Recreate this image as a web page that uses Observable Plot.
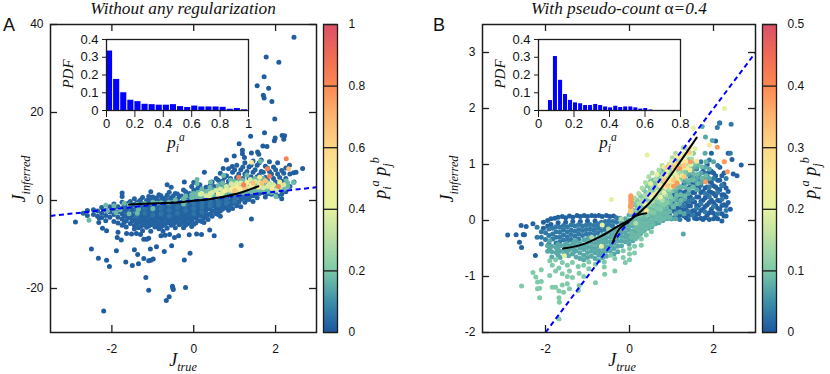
<!DOCTYPE html>
<html><head><meta charset="utf-8">
<script src="https://cdn.jsdelivr.net/npm/d3@7"></script>
<script src="https://cdn.jsdelivr.net/npm/@observablehq/plot@0.6"></script>
<style>
html,body{margin:0;padding:0;background:#fff}
#root{position:relative;width:830px;height:374px;overflow:hidden}
.t{position:absolute;white-space:nowrap;line-height:1;color:#111;transform:translate(-50%,-50%)}
.r{transform:translate(-50%,-50%) rotate(-90deg)}
.serif{font-family:"Liberation Serif",serif;font-style:italic}
.sans{font-family:"Liberation Sans",sans-serif}
.serif sub,.serif sup{font-size:68%;line-height:0}
</style></head><body><div id="root"></div>
<script>
// colour stops shared by both colour bars (fraction of the bar -> colour)
const colorStops=[0,.04,.1,.2,.3,.4,.5,.6,.7,.8,.9,1];
const colorRange=["#1f5a9e","#2a6ea6","#3f92a8","#7fcaa8","#b8dfa5","#e8f3a0","#faeb96","#fdd585","#fdb36e","#fb8752","#ee6a55","#d9506a"];

// ---------- Panel A scatter: [x,[y,...]] columns per colour level ----------
const aOutliers=[[2.45,[37.1]],[1.77,[32.6]],[2.08,[31.4]],[1.72,[28.1,23.3]],[1.55,[26.1]],[1.83,[25.5]],[1.70,[23.9]],[1.91,[22.5]],[1.98,[18.5]],[1.73,[15.4]],[1.39,[14.6]],[2.16,[14.8]],[2.22,[14.7]],[2.2,[13.9]],[1.99,[14.2]],[1.97,[13.6]],[1.11,[12.9]],[1.69,[12.4]],[1.79,[12.3]],[.99,[10.1]],[1.19,[11.4,10.6]],[1.24,[9.8]],[1.41,[10.8]],[1.56,[11]],[1.59,[10.5]],[.8,[9.2]],[.72,[7.3]],[.94,[7.7]],[.26,[6.4]],[-.23,[4.2]],[0,[4.1]],[2.66,[7.3]],[2.44,[6.3]],[2.5,[6.4]],[2.34,[8]],[-2.89,[-4.9]],[-2.5,[-11]],[-2.33,[-13.1]],[-2.13,[-13.6,-6.9]],[-2.06,[-15]],[-1.89,[-11.4]],[-2.2,[-25.1]],[-1.66,[-14]],[-1.5,[-14.8]],[-1.35,[-14.4]],[-1.45,[-11.2]],[-1.37,[-12.3]],[-1.22,[-13.2,-8.8]],[-1.1,[-13.7,-20.4,-8.6]],[-1.05,[-13.6]],[-.99,[-13.3]],[-1.06,[-11]],[-.91,[-10.5]],[-.72,[-11.6]],[-.54,[-10.3]],[-.09,[-12]],[-.23,[-13.5]],[-1.17,[-17.5]],[-.52,[-19.5]],[-.51,[-19.9]],[-.5,[-20.2]],[-.2,[-19.8]],[-.6,[-21.9]],[-.67,[-22.7]],[1.41,[-4.2]],[1.16,[-10.2]],[.5,[-8]],[.39,[-6.7]],[.19,[-7.7]],[.07,[-7.6]],[-.11,[-7.8]],[-.37,[-8]],[-.47,[-8.4]],[-.7,[-7.9]],[-.8,[-8]],[-.59,[-7.7]],[-1.15,[-8.8]],[-1.3,[-7.7]],[-1.4,[-7.5]],[-1.52,[-7.6]],[-1.64,[-7.5]],[-1.87,[-8.4]],[-1.77,[-9]],[-1.85,[-7.2]],[-2.23,[-6.3]],[-2.32,[-5]],[-2.31,[-4]]];
const aCore=[[-2.7,[-2.9]],[-2.6,[-3.4,-2.3]],[-2.45,[-2.1,-3.2]],[-2.35,[-2.4,-3.6]],[-2.25,[-1.6,-2.9,-3.9]],[-2.15,[-2.2,-3.4,-4.6]],[-2.05,[-1.4,-2.6,-3.8]],[-1.95,[-.8,-2,-3.2,-4.8]],[-1.85,[-1.4,-2.6,-3.8,-5.1]],[-1.75,[1.7,.9,-.4,-1.8,-3,-4.2,-5.6]],[-1.65,[-.9,-2.2,-3.4,-4.6,-6]],[-1.55,[-.2,-1.5,-2.7,-3.9,-5.2]],[-1.45,[.4,-.9,-2.1,-3.3,-4.5,-5.7,-6.5]],[-1.35,[-.3,-1.5,-2.7,-3.8,-5,-6.2]],[-1.25,[.7,-.9,-2.1,-3.2,-4.4,-5.6,-6.9]],[-1.15,[0,-1.3,-2.5,-3.7,-4.9,-6.1]],[-1.05,[2,.6,-.7,-1.9,-3.1,-4.3,-5.5,-7]],[-.95,[.2,-1.1,-2.4,-3.6,-4.8,-6]],[-.85,[1.3,-.3,-1.6,-2.8,-4,-5.2,-6.4]],[-.75,[.4,-.9,-2.1,-3.3,-4.5,-5.7,-7]],[-.65,[3.6,1.2,-.2,-1.5,-2.7,-3.9,-5.1,-6.3]],[-.55,[3,.6,-.8,-2,-3.2,-4.4,-5.6]],[-.45,[1.6,-.1,-1.4,-2.6,-3.8,-5,-6.2]],[-.35,[.9,-.7,-1.9,-3.1,-4.3,-5.5]],[-.25,[2.4,.2,-1.2,-2.4,-3.6,-4.8,-6.2]],[-.15,[1.2,-.4,-1.7,-2.9,-4.1,-5.3]],[-.05,[3.2,.6,-.9,-2.1,-3.3,-4.5,-5.9]],[.05,[1.8,-.3,-1.5,-2.7,-3.9,-5.1]],[.15,[3.6,.9,-.8,-2,-3.2,-4.6]],[.25,[2,-.2,-1.4,-2.6,-3.9,-5]],[.35,[1.2,-.7,-1.9,-3.2,-4.3]],[.45,[4.2,2.6,-.1,-1.3,-2.5,-3.6]],[.55,[5,1.6,-.6,-1.8,-3]],[.65,[6.2,3.6,0,-1.2,-2.4,-3.6]],[.75,[5.2,2.8,-.5,-1.7]],[.85,[7.2,4.4,1.4,-1,-2.2]],[.95,[6.4,3.6,.6,-.6,-1.8]],[1.05,[8,5.2,2.4,-.2,-1.2]],[1.15,[7,4.2,1.2,.2,-1.4]],[1.25,[8.6,6,3.2,.6,-.4]],[1.35,[7.6,5,2.1,.2]],[1.45,[9,6.4,4,1.1,-.2]],[1.55,[8,5.4,2.9,.6]],[1.65,[9.2,6.6,4.2,1.8]],[1.75,[7.8,5.2,2.6,.8]],[1.85,[8.8,6.6,3.8,1.6]],[1.95,[7.6,5,2.6]],[2.05,[8.6,6,3.6,1]],[2.15,[6.8,4.4,1.4,.4]],[2.25,[7.4,5,2]],[2.35,[6,3.2]],[2.45,[4.2]]];
const aCoreFill=[[-1.7,[-1.2,-2.4,-3.6,-5]],[-1.6,[-.6,-1.6,-2.8,-4]],[-1.5,[-1.1,-2.2,-3.4,-4.6]],[-1.4,[-.6,-1.8,-3,-4.1,-5.3]],[-1.3,[.1,-1.2,-2.4,-3.5,-4.7,-5.9]],[-1.2,[-.6,-1.7,-2.9,-4,-5.2]],[-1.1,[.9,-.1,-1.1,-2.2,-3.4,-4.6,-5.8]],[-1,[.8,-.4,-1.5,-2.7,-3.9,-5.1]],[-.9,[.6,-.9,-2,-3.2,-4.4,-5.6]],[-.8,[1.1,0,-1.3,-2.5,-3.7,-4.9,-6]],[-.7,[.5,-.6,-1.8,-3,-4.2,-5.4]],[-.6,[1.9,.1,-1.2,-2.4,-3.6,-4.8]],[-.5,[1,-.5,-1.7,-2.9,-4.1,-5.3]],[-.4,[1.5,.2,-1,-2.2,-3.4,-4.6]],[-.3,[1,-.4,-1.6,-2.8,-4,-5.2]],[-.2,[2,.5,-.8,-2,-3.2,-4.4,-5.6]],[-.1,[1.6,.1,-1.3,-2.5,-3.7,-5]],[0,[2.4,1,-.4,-1.6,-2.8,-4,-5.4]],[.1,[2.8,1.4,-.5,-1.2,-2.4,-3.5,-4.6]],[.2,[2.6,1.2,-.1,-1.1,-2.3,-3.6,-4.8]],[.3,[3,1.4,.1,-1,-2.2,-3.4]],[.4,[3.4,2,.4,-.8,-1.9,-3.1]],[.5,[3.2,1.8,-.2,-1.2,-2.4]],[.6,[4.6,2.4,.6,-.9,-2.1,-3.2]],[.7,[4.4,1.8,.2,-1,-2]],[.8,[5.6,3.4,1,-.2,-1.4]],[.9,[5,2.2,0,-1.2]],[1,[7,4.4,1.4,.3,-.6]],[1.1,[6,3.2,.9,-.4]],[1.2,[7.6,5,2.4,1]],[1.3,[6.6,4,1.2,.3]],[1.4,[8,5.4,3.2,1]],[1.5,[7,4.6,1.4]],[1.6,[8.6,5.8,3.4,1.6]],[1.7,[6.4,3.6,1.8]],[1.8,[7.4,4.6,2.4,1.6]],[1.9,[6,3.2,1.4]],[2,[7,4.2,2]],[2.1,[5.2,2.8]],[2.2,[6.2,3.6]]];
const aSteel=[[-1.4,[-2.2,-3.5]],[-1.2,[-2.9,-1.8]],[-1,[-2.1,-3.3,-1]],[-.8,[-1.8,-3,-.8]],[-.6,[-2.2,-1,-3.5]],[-.4,[-1.6,-.4,-2.9]],[-.2,[-1.1,-2.3,-.2]],[0,[-.6,-1.8,-3]],[.2,[-.5,-1.5,-2.6]],[.4,[-.3,-1.2]],[.6,[-.2,-1]],[.8,[.4,-.6]],[1,[.6,-.2]]];
const aTeal=[[-2.56,[-4.5]],[-2.15,[-1.1]],[-1.95,[-1.2]],[-1.8,[-2.1]],[-1.58,[-3,-1]],[-1.38,[-2.9,-.9]],[-1.2,[-.7]],[-1,[-.4,-1.8]],[-.8,[-.5]],[-.61,[-.4]],[-.45,[.1]],[-.25,[.4,-.8]],[-.05,[.5,1.3]],[.08,[4.8,3.8,1]],[.22,[1.5]],[.41,[4.2,2.1,.8]],[.6,[1.2,2.6]],[.73,[5.7,3]],[.9,[2,4.6]],[1.1,[1.8,4.4]],[1.3,[2.3,5.8]],[1.63,[8.9]],[1.5,[3.2]],[1.8,[2]],[1.95,[2.8]],[2.01,[.9]],[2.2,[2.6,3.4]],[2.26,[4.5]],[2.44,[4.1]],[-.2,[1,-.1]],[0,[.6,1.6]],[.1,[1.8,.4]],[.2,[.7,2.6]],[.3,[2,.9]],[.4,[1.2,3]],[.5,[1,2.4]],[.6,[.9,3.4]],[.7,[1.2,2.4,4]],[.8,[1.6,2.6]],[.9,[1.4,3.4]],[1,[1.6,2.8,4.4]],[1.1,[1.5,3.3]],[1.2,[1.8,3.2,4.6]],[1.3,[2,3.8]],[1.4,[2,4.4]],[1.5,[2.2,3.8,5]],[1.6,[2.4,4.5]],[1.7,[2.2,3.4,5]],[1.8,[2.6,4.2]],[1.9,[1.8,3.4]],[2,[2.2,3.2]],[2.1,[2.8,3.8]],[2.3,[3.2,4]],[-2.1,[-2.3]],[-1.9,[-2.8]],[-1.7,[-.6]],[-1.35,[-2]],[-.9,[-.6]]];
const aLime=[[.16,[1.4]],[.3,[1.1]],[.45,[1.8]],[.55,[2.3]],[.7,[1.7]],[.8,[3.2]],[.92,[2.3,3.8]],[1,[3.4]],[1.15,[2.4,4]],[1.27,[3.4]],[1.38,[2.9,4.8]],[1.5,[4.3]],[1.7,[2.9]],[1.85,[3.8]],[2.02,[2.4]],[2.12,[3.2]],[.2,[1.6]],[.4,[1.6,.9]],[.65,[1.4,2.6]],[.85,[2.4]],[1.05,[2.4,3.9]],[1.25,[2.7]],[1.45,[3.3]],[1.6,[3.4,4.1]],[1.8,[3.2]],[1.95,[3.6]],[2.2,[3.6]]];
const aYellow=[[.6,[1.5]],[.76,[2.2]],[.94,[2.7]],[1.06,[3.2]],[1.14,[2.7]],[1.3,[4.1]],[1.41,[8.7,3.6]],[1.61,[5.3]],[1.58,[3]],[1.91,[2.8]],[2.1,[4.2]]];
const aAmber=[[1.0,[2.2]],[1.24,[3]],[1.46,[3.9]],[1.67,[4]],[1.75,[4.5]],[2.32,[7.2]]];
const aOrange=[[1.1,[5.3]],[1.22,[3.6]],[1.8,[7.2]],[1.85,[5.5]],[2.07,[3.2]],[2.26,[9.5]]];

// ---------- Panel B scatter ----------
const bDeep=[[-2.9,[-.26]],[-2.7,[-.256]],[-2.58,[-.09]],[-2.46,[-.107]],[-2.53,[-.25]],[-2.5,[-.256]],[-2.62,[-.39]],[-2.57,[-.48]],[-2.3,[-.06]],[-2.24,[-.625]],[-2.05,[-.03,-.14]],[-1.95,[0,-.1]],[-1.87,[.03,-.07]],[-1.78,[.04]],[-1.7,[.06,-.04]],[-1.6,[.07]],[-1.52,[.05,-.03]],[-1.43,[.08]],[-1.35,[.06,-.02]],[-1.25,[.09]],[-1.17,[.07,-.02]],[-1.08,[.09]],[-1,[.07,-.01]],[-.9,[.09]],[-.82,[.08,-.01]],[-.73,[.09]],[-.65,[.07]],[-.55,[.09]],[-.47,[.07]],[-.38,[.08]],[.95,[.1,.24]],[1.05,[.17,.31,.45]],[1.15,[.08,.22,.37]],[1.25,[.14,.28,.45,.6]],[1.35,[.05,.2,.34,.52]],[1.45,[.1,.26,.42,.6,.76]],[1.55,[.04,.18,.33,.5,.67]],[1.65,[.12,.27,.42,.58,.8]],[1.75,[.02,.2,.36,.52,.7,.88]],[1.85,[.1,.28,.44,.6,.78,1]],[1.95,[.2,.36,.5,.68,.88,1.2]],[2.05,[.09,.27,.44,.6,.8,1.42]],[2.15,[.2,.35,.55,.72,.95,1.74]],[2.25,[.08,.28,.46,.65,.85]],[2.35,[.32,.52,1.2]],[2.47,[.83]],[2.66,[.99]],[2.44,[1.09]],[2.56,[.8]],[2.2,[-.01]],
 [1,[.03,.17,.31,.38]],[1.1,[.14,.29,.43]],[1.2,[.1,.2,.38,.52]],[1.3,[.08,.2,.36,.5,.66]],[1.4,[.02,.12,.27,.43,.58]],[1.5,[.17,.33,.5,.68]],[1.6,[.03,.11,.26,.42,.6,.76]],[1.7,[.04,.18,.34,.5,.73]],[1.8,[.05,.25,.4,.58,.76]],[1.9,[.02,.14,.32,.52,.7,.86]],[2,[.03,.13,.32,.48,.62,.85]],[2.1,[.03,.22,.36,.56,.72]],[2.2,[.12,.27,.46,.62,.8]],[2.3,[.08,.27,.42,.58]],[2.4,[.2]]];
const bSteel=[[-2.2,[-.12,-.3]],[-2.1,[-.2,-.3,-.42]],[-2,[-.22,-.34]],[-1.92,[-.15,-.27,-.42]],[-1.83,[-.14,-.24,-.33]],[-1.75,[-.11,-.2,-.3,-.4]],[-1.66,[-.12,-.21,-.3,-.38]],[-1.57,[-.09,-.17,-.26,-.35]],[-1.48,[-.11,-.2,-.29,-.37]],[-1.39,[-.08,-.17,-.25,-.34]],[-1.3,[-.1,-.19,-.28]],[-1.21,[-.07,-.16,-.24,-.33]],[-1.12,[-.1,-.18,-.27]],[-1.03,[-.08,-.16,-.24]],[-.94,[-.07,-.15,-.23,-.31]],[-.85,[-.09,-.17,-.25]],[-.76,[-.06,-.14,-.22]],[-.67,[-.03,-.1,-.18]],[-.58,[-.02,-.09,-.16]],[-.49,[-.01,-.08,-.15]],[-.4,[-.02,-.1]],[-.31,[.05,-.03]],[-.22,[.04]],[1.05,[.05,.6]],[1.2,[.5,.02]],[1.3,[.62,.26]],[1.4,[.35,.16,.9]],[1.5,[.1,.38,.82]],[1.6,[.22,.7,.92]],[1.7,[.3,.63,1.05]],[1.8,[.15,.48,.85]],[1.9,[.42,.6,1.08]],[2,[.25,.75]],[2.1,[.12,.5,.98]],[2.2,[.38,.63]],[2.3,[.18,.75]],[2.14,[1.74]],[2.09,[1.66]],[2.42,[1.72]],[2.4,[1.2]]];
const bTeal=[[-1.95,[-.45,-.55]],[-1.85,[-.46,-.56,-.65]],[-1.75,[-.48,-.57]],[-1.65,[-.45,-.55,-.66]],[-1.55,[-.44,-.52,-.6]],[-1.45,[-.45,-.53,-.63]],[-1.36,[-.42,-.5,-.6]],[-1.27,[-.37,-.45,-.54,-.65]],[-1.18,[-.41,-.49,-.58,-.68]],[-1.09,[-.35,-.44,-.52,-.62,-.7]],[-1,[-.32,-.4,-.48,-.57,-.66]],[-.91,[-.39,-.47,-.55,-.64]],[-.82,[-.33,-.41,-.5,-.58,-.68]],[-.73,[-.3,-.38,-.46,-.54,-.62,-.72]],[-.64,[-.26,-.34,-.42,-.5,-.58,-.66]],[-.55,[-.23,-.31,-.39,-.47,-.55,-.64]],[-.46,[-.22,-.3,-.38,-.46,-.54]],[-.37,[-.17,-.25,-.33,-.41,-.5,-.6]],[-.28,[-.13,-.21,-.29,-.37,-.46,-.56]],[-.19,[-.04,-.12,-.2,-.28,-.36,-.45]],[-.1,[.03,-.06,-.14,-.22,-.3,-.38]],[-.01,[.1,0,-.09,-.17,-.26,-.34,-.42]],[.08,[-.02,-.1,-.19,-.28,-.36]],[.17,[.05,-.04,-.12,-.21,-.3]],[.26,[.02,-.07,-.15,-.24]],[.35,[.1,0,-.09,-.18]],[.44,[.03,-.06,-.14]],[.53,[.08,-.03,-.11]],[.62,[.06,0,-.06]],[.7,[.12,.04,-.04]],[.8,[.18,.09,0]],[.9,[.2,.12,.03]],[1,[.36,.28,.03]],[1.1,[.52,.38,.12,.03]],[1.2,[.6,.3,.15]],[1.3,[.7,.38,.12]],[1.4,[.82,.68,.48]],[1.5,[.9,.75,.6]],[1.6,[.95,.75,.55]],[1.7,[.85,.68]],[1.8,[1.2,.95,.72]],[1.9,[.92,.75]],[2,[1.05]],[1.81,[1.49]],[1.97,[1.43]],[1.73,[1.68]],[1.28,[-.24]],[-1.9,[-.36,-.5]],[-1.7,[-.43,-.52,-.62]],[-1.5,[-.41,-.49,-.57]],[-1.32,[-.38,-.47,-.56]]];
const bMid=[[.05,[-.06,-.22,-.3,.1,.2,.32]],[.14,[-.14,-.26,-.33,.02,.14,.28]],[.22,[-.02,-.1,-.18,-.27,.05,.16,.28]],[.3,[-.03,-.11,-.2,.06,.16,.26,.4]],[.39,[-.05,-.14,.05,.14,.24,.36,.5]],[.48,[-.1,-.01,.1,.2,.32,.44,.6]],[.56,[.02,-.07,.11,.2,.32,.44,.58,.72]],[.64,[.03,.09,.18,.28,.4,.52,.68]],[.72,[0,.08,.16,.26,.38,.5,.64,.82]],[.8,[.04,.13,.22,.32,.46,.6,.76,.9]],[.88,[.06,.14,.24,.36,.5,.66,.84]],[.96,[.06,.16,.32,.46,.62,.78,.94]],[1.04,[.24,.38,.54,.68,.86,1.02]],[1.12,[.3,.44,.58,.76,.9,1.08]],[1.22,[.36,.46,.6,.82,.98]],[1.32,[.44,.6,.76,.9]],[1.42,[.56,.72,.88]],[1.52,[.6,.72,.84,.96]],[1.62,[.66,.82,1]],[1.72,[.76,.96]],[1.82,[.8,1.05]]];
const bGreen=[[.02,[.15,.25]],[.1,[.08,.18,.3]],[.18,[.12,.22,.36]],[.26,[.1,.2,.32,.44]],[.34,[.16,.26,.38,.55]],[.42,[.1,.22,.34,.48,.62]],[.5,[.16,.28,.4,.54,.7]],[.58,[.14,.26,.38,.5,.64]],[.66,[.22,.34,.46,.6,.76]],[.74,[.2,.3,.44,.56,.72]],[.82,[.28,.38,.52,.66,.84]],[.9,[.32,.44,.6,.76]],[.98,[.42,.52,.68,.86]],[1.06,[.6,.74,.92]],[1.14,[.66,.82]],[1.22,[.74,.9,1.05]],[1.32,[.84,.98]],[1.42,[.96,1.1]],[1.52,[1.02,1.2]],[-2.57,[-1.17]],[-2.3,[-.93]],[-2.23,[-1.01]],[-2.19,[-1.1,-1.22]],[-2.1,[-1.09,-.88]],[-2.14,[-1.21,-1.38]],[-1.9,[-.72,-.98]],[-1.84,[-1.19,-.8]],[-1.76,[-1.19,-.9,-.7]],[-1.68,[-1.38,-1.26,-1.76,-.85]],[-1.67,[-1.46]],[-1.6,[-1.15,-.75,-.95]],[-1.57,[-1.28]],[-1.48,[-1.13,-.8,-1]],[-1.43,[-1.22,-.9]],[-1.36,[-1.02,-.75]],[-1.22,[-1.25,-.82]],[-1.2,[-1.16,-.94]],[-1.09,[-1,-.8]],[-.97,[-.86,-.74]],[-.81,[-1.11,-.78]],[-.6,[-.83,-.74]],[-.59,[-.96]],[-.35,[-.9,-.68]],[-.45,[-.62]],[-.15,[-.54,-.66]],[0,[-.5,-.6,-.7]],[.12,[-.46,-.58]],[.28,[-.33,-.44]],[.4,[-.26]],[.52,[-.2]],[-.1,[-.75]]];
const bLime=[[.12,[.4]],[.22,[.48,.3]],[.3,[.58,.36]],[.38,[.44,.68]],[.46,[.5,.78,.3]],[.54,[.34,.6,.85]],[.62,[.42,.58,.74]],[.7,[.4,.52,.68,.9]],[.78,[.36,.6,.8,.98]],[.86,[.46,.7,.92]],[.94,[.56,.78,1]],[1.02,[.66,.82,1.12]],[1.1,[.72,.98,1.2]],[1.18,[.85,1.1]],[1.28,[.92,1.15,1.3]],[1.38,[1.02,1.28]],[1.48,[1.1]],[-.9,[-.3]],[-.5,[-.15]],[-.2,[.03]],[.15,[-.05]]];
const bYellow=[[.36,[.3]],[.5,[.42,.66]],[.66,[.5,.82]],[.74,[.62,.42]],[.82,[.5,.74,.96]],[.9,[.68,.88]],[1,[.6,.76,1.06]],[1.08,[.84,1.02]],[1.16,[.96,.7]],[1.26,[.8,1.04,1.2]],[1.36,[.94,1.16]],[1.46,[1.2,1]],[1.56,[1.28]],[-1.55,[-.63]],[-.43,[.375]],[.42,[1.17]],[2.26,[2]],[1.52,[1.65]],[-.65,[-.08]],[-.67,[-.46]]];
const bPale=[[.72,[.64]],[.86,[.6,.82]],[.96,[.7,.98]],[1.06,[.66,.9]],[1.14,[.78,1.14]],[1.24,[.94,1.12]],[1.34,[1.06]],[1.44,[.9,1.3]],[.58,[.46]],[.4,[.18]],[1.6,[1.06]],[1.9,[1.35]]];
const bAmber=[[.82,[.72]],[.9,[.62,.95]],[1.05,[.95,.72]],[1.15,[1.02]],[1.3,[.78,.98]],[1.42,[1.22]],[2.25,[1.05]],[.03,[.16,.2]]];
const bOrange=[[1.2,[.93]],[1.13,[.67]],[1.05,[.61]],[1.45,[1.05]],[1.81,[.69]],[2.26,[1.05]],[2.33,[.87]],[2.09,[1.31]],[.03,[.25,.3,.35,.4,.44]],[.04,[.27,.37]]];

// curves
const aCurveX=[-1.58,-.9,-.32,-.08,.33,.73,1.14,1.58];
const aCurveY=[-.9,-.65,-.4,-.15,.23,.85,1.75,3.25];
const bCurveX=[-1.58,-1.13,-.65,-.25,.06,.46,.78,1.17,1.6];
const bCurveY=[-.5,-.43,-.27,-.09,.04,.3,.6,1.01,1.48];
const bCurve2X=[-.4,-.24,-.02,.14,.4];
const bCurve2Y=[-.39,-.15,-.02,.08,.13];

// insets
const aHistStart=[0,.05,.1,.15,.2,.25,.3,.35,.4,.45,.5,.55,.6,.65,.7,.75,.8,.85,.9,.95];
const aHistPdf=[.335,.175,.1,.058,.05,.035,.033,.03,.03,.033,.022,.017,.025,.02,.02,.02,.018,.007,.011,.004];
const bHistStart=[.056,.084,.113,.141,.169,.197,.226,.254,.282,.311,.339,.367,.395,.424,.452,.48,.509,.537,.565,.593,.622];
const bHistPdf=[.056,.304,.17,.09,.057,.043,.038,.028,.028,.034,.028,.02,.015,.024,.017,.02,.02,.015,.008,.011,.003];

const xTicks=[-2,0,2];
const aYTicks=[-20,0,20,40];
const bYTicks=[-2,-1,0,1,2,3];
const ink="#1c1c1c";
const sans="Liberation Sans, sans-serif";
const root=document.getElementById("root");

const flat=(cols,c)=>cols.flatMap(([x,ys])=>ys.map(y=>({x,y,c})));
const place=(svg,left,top)=>{svg.style.position="absolute";svg.style.left=left+"px";svg.style.top=top+"px";svg.style.background="transparent";svg.style.overflow="visible";root.appendChild(svg);};
const pairs=(xs,ys)=>xs.map((x,i)=>({x,y:ys[i]}));

function panel({left,right,xDom,yDom,yT,pts,colorMax,curves}){
  const w=right+4-(left-50), h=374;
  const th=332-24, tw=right-left;
  const svg=Plot.plot({
    width:w,height:h,marginLeft:50,marginRight:4,marginTop:24,marginBottom:42,
    style:{fontFamily:sans,fontSize:"12px",color:"#111"},
    x:{domain:xDom,axis:null},y:{domain:yDom,axis:null},
    color:{type:"linear",domain:colorStops.map(d=>d*colorMax),range:colorRange,clamp:true},
    marks:[
      Plot.dot(pts,{x:"x",y:"y",fill:"c",r:2.5,clip:true}),
      Plot.line([{x:Math.max(xDom[0],yDom[0]),y:Math.max(xDom[0],yDom[0])},{x:xDom[1],y:xDom[1]}],{x:"x",y:"y",stroke:"#0000ff",strokeWidth:2,strokeDasharray:"5,3.5",strokeLinecap:"butt",clip:true}),
      ...curves.map(c=>Plot.line(c,{x:"x",y:"y",stroke:"#000",strokeWidth:2,curve:"catmull-rom"})),
      Plot.frame({stroke:ink,strokeWidth:1.5}),
      Plot.tickX(xTicks,{x:d=>d,stroke:ink,strokeWidth:1.3,insetTop:th-7}),
      Plot.tickX(xTicks,{x:d=>d,stroke:ink,strokeWidth:1.3,insetBottom:th-7}),
      Plot.tickY(yT,{y:d=>d,stroke:ink,strokeWidth:1.3,insetRight:tw-7}),
      Plot.tickY(yT,{y:d=>d,stroke:ink,strokeWidth:1.3,insetLeft:tw-7}),
      Plot.axisX(xTicks,{anchor:"bottom",tickSize:0,tickPadding:12,label:null,tickFormat:String,fontSize:12}),
      Plot.axisY(yT,{anchor:"left",tickSize:0,tickPadding:7,label:null,tickFormat:String,fontSize:12})
    ]});
  place(svg,left-50,0);
}

function colorbar({left,max,ticks}){
  const levels=d3.range(0,128).map(i=>i/128*max);
  const svg=Plot.plot({
    width:50,height:374,marginLeft:1,marginRight:35,marginTop:24,marginBottom:42,
    style:{fontFamily:sans,fontSize:"12px",color:"#111"},
    x:{domain:[0,1],axis:null},y:{domain:[0,max],axis:null},
    color:{type:"linear",domain:colorStops.map(d=>d*max),range:colorRange},
    marks:[
      Plot.rect(levels,{x1:0,x2:1,y1:d=>d,y2:d=>Math.min(max,d+max/50),fill:d=>d}),
      Plot.tickY(ticks,{y:d=>d,stroke:ink,strokeWidth:1.3}),
      Plot.frame({stroke:ink,strokeWidth:1.3}),
      Plot.axisY(ticks,{anchor:"right",tickSize:0,tickPadding:11,label:null,tickFormat:String,fontSize:12})
    ]});
  place(svg,left-1,0);
}

function inset({left,xMax,xT,start,pdf,width}){
  const svg=Plot.plot({
    width:142+40,height:71+26,marginLeft:30,marginRight:10,marginTop:6,marginBottom:20,
    style:{fontFamily:sans,fontSize:"13px",color:"#111"},
    x:{domain:[0,xMax],axis:null},y:{domain:[0,.4],axis:null},
    marks:[
      Plot.rectY(start.map((s,i)=>({s,e:s+width,p:pdf[i]})),{x1:"s",x2:"e",y1:0,y2:"p",fill:"#0000ff",insetRight:1}),
      Plot.frame({stroke:ink,strokeWidth:1.3}),
      Plot.axisX(xT,{anchor:"bottom",tickSize:7,tickPadding:1,label:null,tickFormat:String,stroke:ink,fontSize:13}),
      Plot.axisY([0,.1,.2,.3,.4],{anchor:"left",tickSize:4,tickPadding:4,label:null,tickFormat:String,stroke:ink,fontSize:13})
    ]});
  place(svg,left-30,33);
}

panel({left:50,right:316,xDom:[-3.5,3],yDom:[-30,40],yT:aYTicks,colorMax:1,
  pts:[...flat(aCore,.012),...flat(aCoreFill,.018),...flat(aOutliers,.005),...flat(aSteel,.05),...flat(aTeal,.17),...flat(aLime,.36),...flat(aYellow,.5),...flat(aAmber,.66),...flat(aOrange,.82)],
  curves:[pairs(aCurveX,aCurveY)]});
panel({left:482,right:755,xDom:[-3.5,3],yDom:[-2,3.5],yT:bYTicks,colorMax:.5,
  pts:[...flat(bDeep,.008),...flat(bSteel,.03),...flat(bTeal,.07),...flat(bMid,.085),...flat(bGreen,.1),...flat(bLime,.14),...flat(bYellow,.195),...flat(bPale,.26),...flat(bAmber,.32),...flat(bOrange,.38)],
  curves:[pairs(bCurveX,bCurveY),pairs(bCurve2X,bCurve2Y)]});
colorbar({left:323,max:1,ticks:[0,.2,.4,.6,.8,1]});
colorbar({left:762,max:.5,ticks:[0,.1,.2,.3,.4,.5]});
inset({left:106,xMax:1,xT:[0,.2,.4,.6,.8,1],start:aHistStart,pdf:aHistPdf,width:.05});
inset({left:538,xMax:.8,xT:[0,.2,.4,.6,.8],start:bHistStart,pdf:bHistPdf,width:.0283});

// text labels
const texts=[
 ["serif",183,8.5,17.3,"Without any regularization",0],
 ["serif",619,8.5,17.3,'With pseudo-count <span style="font-style:normal">&alpha;</span>=0.4',0],
 ["sans",9,25,18,"A",0],
 ["sans",439,25,18,"B",0],
 ["serif",19,179,18,"J<sub>inferred</sub>",1],
 ["serif",447,179,18,"J<sub>inferred</sub>",1],
 ["serif",183,360,18,"J<sub>true</sub>",0],
 ["serif",622,360,18,"J<sub>true</sub>",0],
 ["serif",380,178,18,"p<sub>i</sub><sup>a</sup> p<sub>j</sub><sup>b</sup>",1],
 ["serif",810,178,18,"p<sub>i</sub><sup>a</sup> p<sub>j</sub><sup>b</sup>",1],
 ["serif",68,74,15,"PDF",1],
 ["serif",500,74,15,"PDF",1],
 ["serif",176,142,17,"p<sub>i</sub><sup>a</sup>",0],
 ["serif",608,142,17,"p<sub>i</sub><sup>a</sup>",0]
];
for(const [cls,x,y,size,html,rot] of texts){
  const d=document.createElement("div");
  d.className="t "+cls+(rot?" r":"");
  d.style.left=x+"px";d.style.top=y+"px";d.style.fontSize=size+"px";
  d.innerHTML=html;
  root.appendChild(d);
}
</script></body></html>
